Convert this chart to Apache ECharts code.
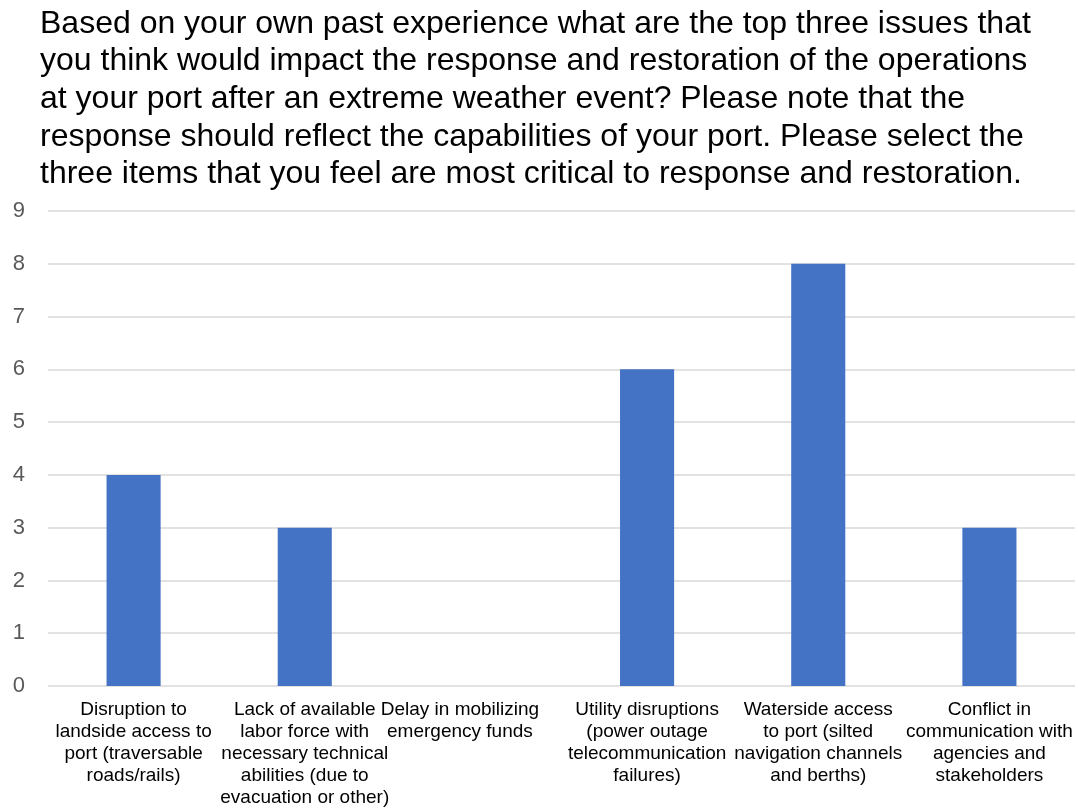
<!DOCTYPE html>
<html><head><meta charset="utf-8">
<script src="https://cdn.jsdelivr.net/npm/echarts@6/dist/echarts.min.js"></script>
<style>html,body{margin:0;padding:0;background:#fff}#c{width:1078px;height:808px}</style>
</head><body><div id="c"></div>
<script>
const titleLines = [
  "Based on your own past experience what are the top three issues that",
  "you think would impact the response and restoration of the operations",
  "at your port after an extreme weather event? Please note that the",
  "response should reflect the capabilities of your port. Please select the",
  "three items that you feel are most critical to response and restoration."
];
const categories = [
  "Disruption to\nlandside access to\nport (traversable\nroads/rails)",
  "Lack of available\nlabor force with\nnecessary technical\nabilities (due to\nevacuation or other)",
  "Delay in mobilizing\nemergency funds",
  "Utility disruptions\n(power outage\ntelecommunication\nfailures)",
  "Waterside access\nto port (silted\nnavigation channels\nand berths)",
  "Conflict in\ncommunication with\nagencies and\nstakeholders"
];
const values = [4, 3, 0, 6, 8, 3];
const yMin = 0, yMax = 9, yInterval = 1;

const FONT = '"Liberation Sans", Arial, sans-serif';
// the third label is nudged left in the original to avoid overlapping its neighbour
const xData = categories.map((c, i) => i === 2 ? {value: c, textStyle: {padding: [0, 32, 0, 0]}} : c);
const chart = echarts.init(document.getElementById('c'), null, {renderer: 'canvas'});
chart.setOption({
  animation: false,
  backgroundColor: '#ffffff',
  title: {
    text: titleLines.join('\n'),
    left: 35, top: 0,
    textStyle: {fontFamily: FONT, fontSize: 32, fontWeight: 'normal', color: '#000000', lineHeight: 37.7}
  },
  grid: {left: 48, right: 3, top: 211, bottom: 122, containLabel: false, outerBoundsMode: 'none'},
  xAxis: {
    type: 'category',
    data: xData,
    axisLine: {show: false},
    axisTick: {show: false},
    axisLabel: {
      interval: 0, margin: 13,
      fontFamily: FONT, fontSize: 19, lineHeight: 22, color: '#000000', align: 'center'
    }
  },
  yAxis: {
    type: 'value', min: yMin, max: yMax, interval: yInterval,
    axisLine: {show: false}, axisTick: {show: false},
    axisLabel: {margin: 23, fontFamily: FONT, fontSize: 22, color: '#595959'},
    splitLine: {lineStyle: {color: '#d9d9d9', width: 1.5}}
  },
  series: [{
    type: 'bar', data: values, barWidth: '31.6%',
    itemStyle: {color: '#4472c4'}
  }]
});
</script></body></html>
